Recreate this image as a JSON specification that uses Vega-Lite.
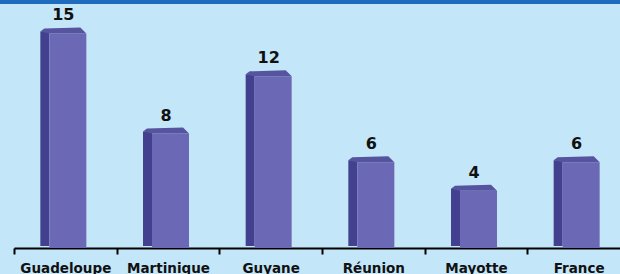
{
  "$schema": "https://vega.github.io/schema/vega-lite/v6.json",
  "width": 620,
  "height": 248,
  "padding": {"left": 0, "top": 0, "right": 0, "bottom": 26},
  "autosize": {"type": "none"},
  "background": "#c3e6f8",
  "config": {
    "view": {"stroke": null},
    "axisX": {
      "title": null,
      "labelAngle": 0,
      "labelFont": "DejaVu Sans",
      "labelFontWeight": "bold",
      "labelFontSize": 13.5,
      "labelColor": "#111111",
      "labelPadding": 7,
      "domainColor": "#000000",
      "domainWidth": 2,
      "tickColor": "#000000",
      "tickWidth": 2,
      "tickSize": 6,
      "tickBand": "extent",
      "grid": false
    }
  },
  "data": {
    "values": [
      {"territoire": "Guadeloupe", "valeur": 15},
      {"territoire": "Martinique", "valeur": 8},
      {"territoire": "Guyane", "valeur": 12},
      {"territoire": "Réunion", "valeur": 6},
      {"territoire": "Mayotte", "valeur": 4},
      {"territoire": "France", "valeur": 6}
    ]
  },
  "layer": [
    {
      "mark": {"type": "rect", "color": "#1e6cbd"},
      "encoding": {
        "y": {"datum": 17.1, "type": "quantitative", "scale": {"domain": [0, 17.34], "nice": false, "zero": true}, "axis": null},
        "y2": {"datum": 17.34}
      }
    },
    {
      "mark": {"type": "bar", "color": "#43418f", "width": 9, "xOffset": -20.5, "yOffset": -2, "y2Offset": -3},
      "encoding": {
        "x": {"field": "territoire", "type": "nominal", "sort": null, "scale": {"range": [14, 630], "paddingInner": 0, "paddingOuter": 0}},
        "y": {"field": "valeur", "type": "quantitative", "scale": {"domain": [0, 17.34], "nice": false, "zero": true}, "axis": null}
      }
    },
    {
      "mark": {"type": "bar", "color": "#6b69b6", "width": 37, "xOffset": 2.5, "y2Offset": -3},
      "encoding": {
        "x": {"field": "territoire", "type": "nominal", "sort": null},
        "y": {"field": "valeur", "type": "quantitative"}
      }
    },
    {
      "mark": {"type": "point", "shape": "M-25,-2L-16,0L21,0L15,-6L-21,-5Z", "size": 4, "filled": true, "opacity": 1, "color": "#56549f", "strokeWidth": 0},
      "encoding": {
        "x": {"field": "territoire", "type": "nominal", "sort": null},
        "y": {"field": "valeur", "type": "quantitative"}
      }
    },
    {
      "mark": {"type": "text", "font": "DejaVu Sans", "fontWeight": "bold", "fontSize": 16, "baseline": "middle", "dy": -18, "dx": -2, "color": "#111111"},
      "encoding": {
        "x": {"field": "territoire", "type": "nominal", "sort": null},
        "y": {"field": "valeur", "type": "quantitative"},
        "text": {"field": "valeur", "type": "quantitative"}
      }
    }
  ]
}
